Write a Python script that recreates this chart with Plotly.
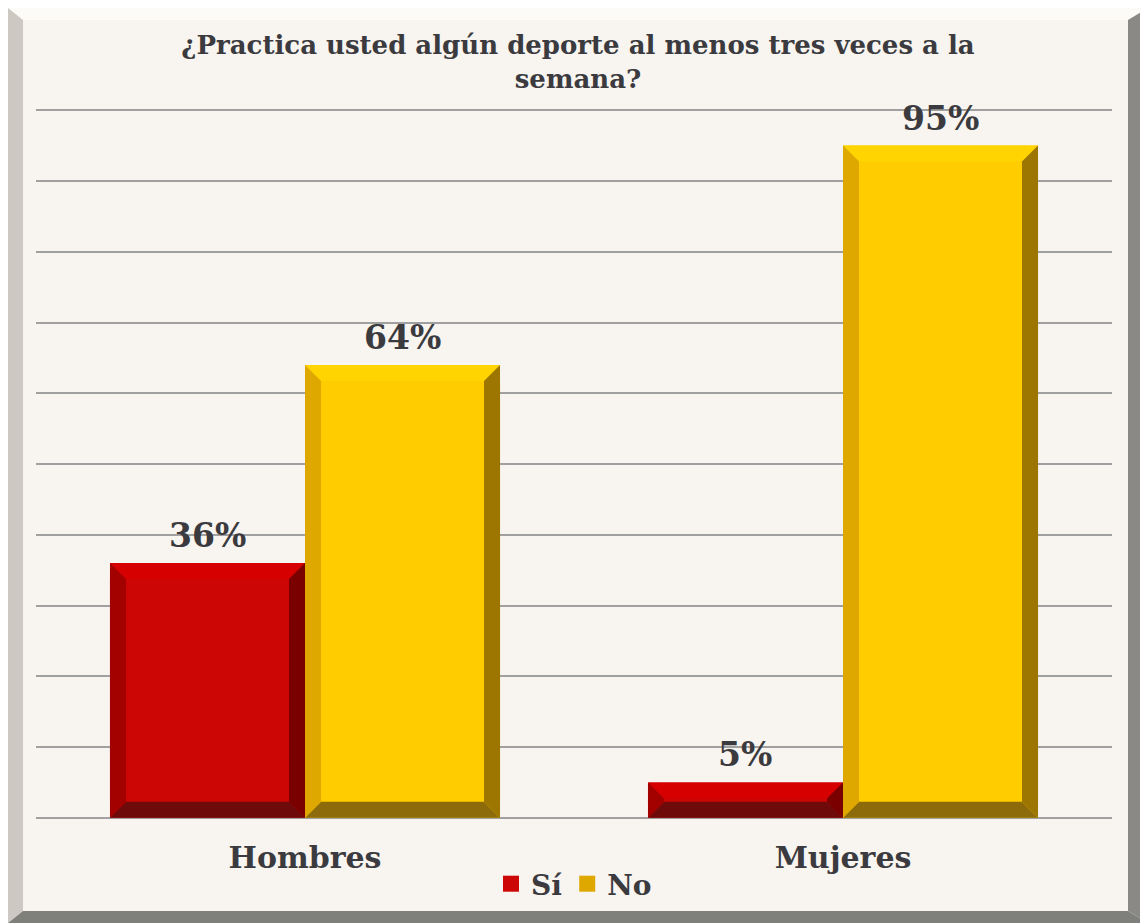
import plotly.graph_objects as go

# data
categories = ['Hombres', 'Mujeres']
series_names = ['Sí', 'No']
si_values = [0.36, 0.05]
no_values = [0.64, 0.95]
title_text = '¿Practica usted algún deporte al menos tres veces a la<br>semana?'

# the page body has an 8px margin, so lay out in screen px and shift
OFF = 8
W, H = 1148 - OFF, 923 - OFF
YMIN, YMAX = -0.006, 1.006
PX_PER_UNIT = 708  # screen px for 0..1
ML = 36 - OFF
MR = W - (1112 - OFF)
MT = round(110 - OFF - (YMAX - 1) * PX_PER_UNIT)
MB = round(H - (818 - OFF) - (0 - YMIN) * PX_PER_UNIT)
PW = W - ML - MR
PH = H - MT - MB

FONT = "Georgia, 'DejaVu Serif', serif"
TXT = '#3b3b3f'

# face colours: front, top, left, right, bottom
pal = {
    'Sí': ['#cc0605', '#d60000', '#a30000', '#7a0000', '#6e0a0a'],
    'No': ['#ffcc00', '#ffd400', '#dea800', '#9c7600', '#8d6b0a'],
}

bw = 0.3625
offsets = {'Sí': -bw, 'No': 0.0}

fig = go.Figure()
annotations = []
for name, vals in zip(series_names, [si_values, no_values]):
    fig.add_trace(go.Bar(
        x=[0, 1], y=vals, name=name, showlegend=False,
        width=bw, offset=offsets[name],
        marker=dict(color=pal[name][0], line=dict(width=0)),
    ))
    # legend entry with a bigger square
    fig.add_trace(go.Scatter(
        x=[None], y=[None], mode='markers', name=name,
        marker=dict(symbol='square', size=16, color=pal[name][0] if name == 'Sí' else pal[name][2]),
    ))
    for i, v in enumerate(vals):
        annotations.append(dict(
            x=i + offsets[name] + bw / 2, y=v, xref='x', yref='y',
            text=f'{v:.0%}', showarrow=False, yanchor='bottom', yshift=6,
            font=dict(family=FONT, size=33, color=TXT, weight='bold'),
        ))

# bevel faces derived from the bar values
shapes = []
xu = 2.0 / PW
yu = (YMAX - YMIN) / PH
for name, vals in zip(series_names, [si_values, no_values]):
    c = pal[name]
    for i, v in enumerate(vals):
        x0 = i + offsets[name]
        x1 = x0 + bw
        hpx = v / yu
        b = min(16, hpx / 2)
        bx, by = b * xu, b * yu
        faces = [
            (c[1], [(x0, v), (x1, v), (x1 - bx, v - by), (x0 + bx, v - by)]),
            (c[4], [(x0, 0), (x1, 0), (x1 - bx, by), (x0 + bx, by)]),
            (c[2], [(x0, 0), (x0, v), (x0 + bx, v - by), (x0 + bx, by)]),
            (c[3], [(x1, 0), (x1, v), (x1 - bx, v - by), (x1 - bx, by)]),
        ]
        for col, pts in faces:
            path = 'M ' + ' L '.join(f'{px},{py}' for px, py in pts) + ' Z'
            shapes.append(dict(type='path', path=path, xref='x', yref='y',
                               fillcolor=col, line=dict(width=0), layer='above'))


# frame decoration, given in screen px, converted to paper coords
def px(x):
    return (x - OFF - ML) / PW


def py(y):
    return (MT + PH - (y - OFF)) / PH


def poly(pts, col):
    path = 'M ' + ' L '.join(f'{px(a)},{py(b)}' for a, b in pts) + ' Z'
    return dict(type='path', path=path, xref='paper', yref='paper',
                fillcolor=col, line=dict(width=0), layer='below')


frame = [
    poly([(8, 8), (1148, 8), (1128, 20), (23, 20)], '#fcfbf8'),
    poly([(8, 8), (23, 20), (23, 911), (8, 923)], '#cdc9c2'),
    poly([(1148, 8), (1148, 923), (1128, 911), (1128, 20)], '#8a8986'),
    poly([(8, 923), (23, 911), (1128, 911), (1148, 923)], '#7f7f7b'),
    poly([(23, 20), (1128, 20), (1128, 911), (23, 911)], '#f8f4ef'),
]

fig.update_layout(
    width=W, height=H,
    margin=dict(l=ML, r=MR, t=MT, b=MB),
    paper_bgcolor='#ffffff',
    plot_bgcolor='rgba(0,0,0,0)',
    title=dict(text=title_text, x=0.5, xanchor='center', y=1 - (54 - OFF) / H, yanchor='middle',
               font=dict(family=FONT, size=26, color=TXT, weight='bold')),
    barmode='group',
    showlegend=True,
    legend=dict(orientation='h', x=0.5, xanchor='center', y=py(884), yanchor='middle',
                font=dict(family=FONT, size=28, color=TXT, weight='bold'),
                bgcolor='rgba(0,0,0,0)', itemwidth=30, tracegroupgap=0),
    xaxis=dict(range=[-0.5, 1.5], tickmode='array', tickvals=[0, 1], ticktext=categories,
               showgrid=False, zeroline=False, showline=False,
               ticks='outside', ticklen=9, tickcolor='rgba(0,0,0,0)',
               tickfont=dict(family=FONT, size=30, color=TXT, weight='bold')),
    yaxis=dict(range=[YMIN, YMAX], tick0=0, dtick=0.1, showticklabels=False, showgrid=True,
               gridcolor='#a0a0a0', gridwidth=2, zeroline=True, zerolinecolor='#a0a0a0',
               zerolinewidth=2, showline=False),
    annotations=annotations,
    shapes=frame + shapes,
)

fig.write_html('out.html')
